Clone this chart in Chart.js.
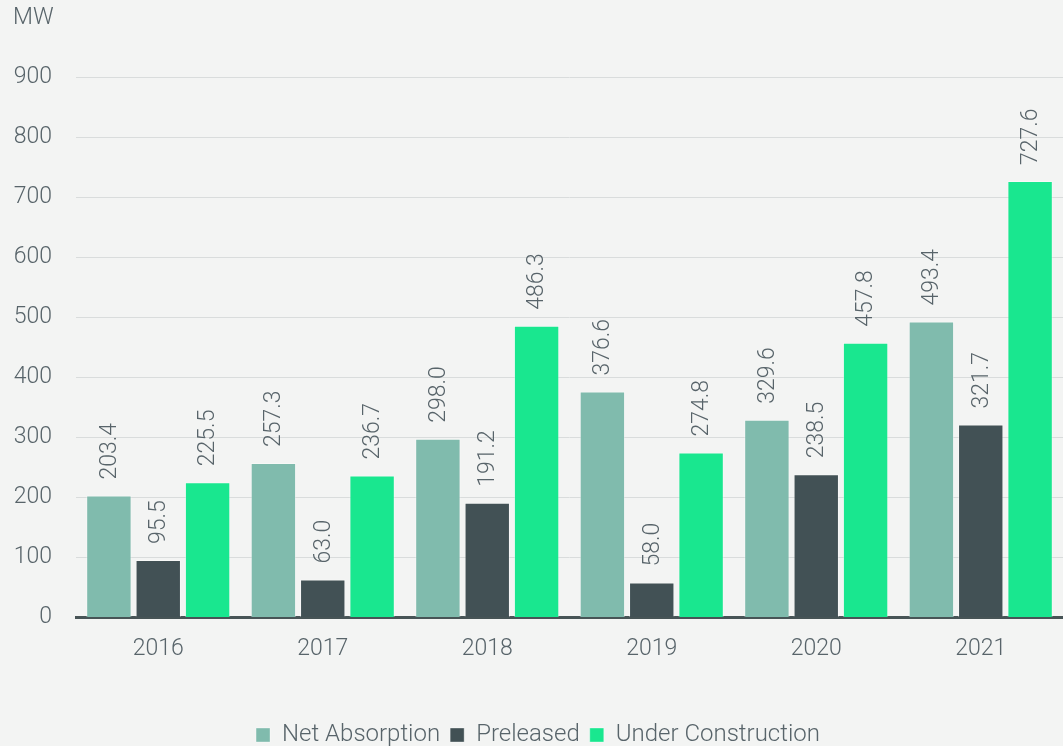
<!DOCTYPE html>
<html>
<head>
<meta charset="utf-8">
<script src="https://cdn.jsdelivr.net/npm/chart.js@4.4.0/dist/chart.umd.min.js"></script>
<style>
    html, body { margin: 0; padding: 0; background: #f3f4f3; }
    #wrap { width: 1063px; height: 746px; position: relative; }
</style>
</head>
<body>
<div id="wrap"><canvas id="mwChart"></canvas></div>
<script>
const years = ["2016", "2017", "2018", "2019", "2020", "2021"];
const netAbsorption = [203.4, 257.3, 298.0, 376.6, 329.6, 493.4];
const preleased = [95.5, 63.0, 191.2, 58.0, 238.5, 321.7];
const underConstruction = [225.5, 236.7, 486.3, 274.8, 457.8, 727.6];

const textColor = "#58646a";
const fontFamily = "Roboto, 'Open Sans', sans-serif";
const fontSize = 23;

// etiquetas giradas encima de cada barra
const barLabels = {
    id: "barLabels",
    afterDatasetsDraw(chart) {
        const ctx = chart.ctx;
        ctx.save();
        ctx.font = "300 " + fontSize + "px " + fontFamily;
        ctx.fillStyle = textColor;
        ctx.textAlign = "left";
        ctx.textBaseline = "middle";
        chart.data.datasets.forEach((ds, i) => {
            chart.getDatasetMeta(i).data.forEach((bar, j) => {
                ctx.save();
                ctx.translate(bar.x, bar.y - 16);
                ctx.rotate(-Math.PI / 2);
                ctx.fillText(ds.data[j].toFixed(1), 0, 1);
                ctx.restore();
            });
        });
        ctx.restore();
    }
};

const ctx = document.getElementById("mwChart").getContext("2d");
new Chart(ctx, {
    type: "bar",
    data: {
        labels: years,
        datasets: [
            { label: "Net Absorption", data: netAbsorption, backgroundColor: "#80bbad" },
            { label: "Preleased", data: preleased, backgroundColor: "#425155" },
            { label: "Under Construction", data: underConstruction, backgroundColor: "#19e78f" }
        ]
    },
    options: {
        responsive: true,
        maintainAspectRatio: false,
        animation: false,
        datasets: {
            bar: {
                categoryPercentage: 0.9,
                barPercentage: 0.92,
                borderWidth: 1,
                borderColor: "rgba(255,255,255,0.35)"
            }
        },
        layout: { padding: { left: 13, right: 0, top: 0, bottom: -11 } },
        plugins: {
            title: {
                display: true,
                text: "MW",
                align: "start",
                color: textColor,
                font: { family: fontFamily, size: fontSize, weight: 300 },
                padding: { top: 4, bottom: 46 }
            },
            legend: {
                position: "bottom",
                labels: {
                    color: textColor,
                    font: { family: fontFamily, size: 24, weight: 300 },
                    boxWidth: 14,
                    boxHeight: 14,
                    padding: 10
                }
            },
            tooltip: { enabled: false }
        },
        scales: {
            x: {
                grid: { display: false },
                border: { display: true, color: "#475456", width: 3 },
                ticks: {
                    color: textColor,
                    font: { family: fontFamily, size: fontSize, weight: 300 },
                    padding: 10
                },
                afterFit(scale) {
                    scale.height += 40;
                }
            },
            y: {
                min: 0,
                max: 900,
                grid: { color: "#d9dcdc", lineWidth: 1, drawTicks: false },
                border: { display: false },
                ticks: {
                    stepSize: 100,
                    color: textColor,
                    font: { family: fontFamily, size: fontSize, weight: 300 },
                    padding: 24
                },
                afterFit(scale) {
                    scale.width = 63;
                }
            }
        }
    },
    plugins: [barLabels]
});
</script>
</body>
</html>
